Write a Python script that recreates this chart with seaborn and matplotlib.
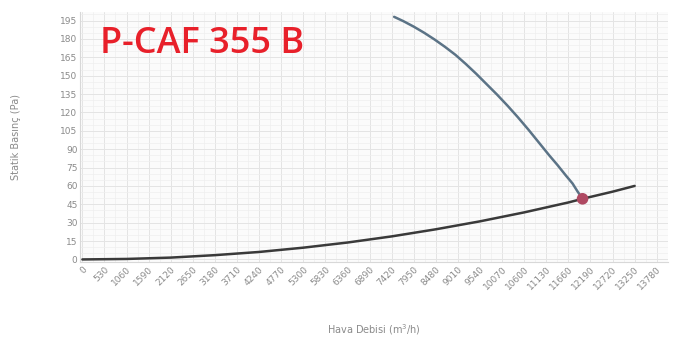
import numpy as np
import pandas as pd
import matplotlib.pyplot as plt
from matplotlib.ticker import MultipleLocator
import seaborn as sns

# Fan curve (air flow m3/h vs static pressure Pa)
fan_q = [7480, 7700, 7950, 8200, 8450, 8700, 8950, 9200, 9450, 9700, 9950,
         10200, 10450, 10700, 10950, 11200, 11400, 11600, 11760, 11880, 12000]
fan_p = [198, 194.5, 190, 185, 179.5, 173.5, 167, 159.5, 151.5, 143, 134.5,
         125.5, 116, 106, 95.5, 85, 77, 68.5, 62, 55.5, 49.5]

# System curve
sys_q = [0, 1060, 2120, 3180, 4240, 5300, 6360, 7420, 8480, 9540, 10600, 11660, 12000, 12720, 13250]
sys_p = [0, 0.4, 1.5, 3.5, 6.1, 9.6, 13.8, 18.8, 24.6, 31.1, 38.4, 46.5, 49.5, 55.3, 60]

# Operating point
op_q = [12000]
op_p = [49.5]

x_ticks = list(range(0, 13781, 530))
y_ticks = list(range(0, 196, 15))

sns.set_theme(style='white')
plt.rcParams['font.family'] = ['DejaVu Sans']

fan = pd.DataFrame({'Q': fan_q, 'P': fan_p})
syst = pd.DataFrame({'Q': sys_q, 'P': sys_p})
op = pd.DataFrame({'Q': op_q, 'P': op_p})

fig = plt.figure(figsize=(6.98, 3.41), dpi=100)
ax = fig.add_axes([0.115, 0.232, 0.842, 0.733])
ax.set_facecolor('#fbfbfb')

sns.lineplot(ax=ax, data=syst, x='Q', y='P', sort=False, color='#3a3a3a', linewidth=1.8)
sns.lineplot(ax=ax, data=fan, x='Q', y='P', sort=False, color='#5b7386', linewidth=1.8)
sns.scatterplot(ax=ax, data=op, x='Q', y='P', color='#b04a63', s=70, edgecolor='none', zorder=5)

ax.set_xlim(-50, 14050)
ax.set_ylim(-2, 202)
ax.set_xticks(x_ticks)
ax.set_xticklabels([str(v) for v in x_ticks], rotation=45, ha='right',
                   rotation_mode='anchor', fontsize=6.5, color='#8a8a8a')
ax.set_yticks(y_ticks)
ax.set_yticklabels([str(v) for v in y_ticks], fontsize=6.5, color='#8a8a8a')
ax.xaxis.set_minor_locator(MultipleLocator(265))
ax.yaxis.set_minor_locator(MultipleLocator(5))
ax.grid(which='major', color='#e4e4e4', linewidth=0.7)
ax.grid(which='minor', color='#efefef', linewidth=0.5)
ax.tick_params(axis='both', length=0, pad=2)
for s in ['top', 'right']:
    ax.spines[s].set_visible(False)
for s in ['left', 'bottom']:
    ax.spines[s].set_color('#d8d8d8')
    ax.spines[s].set_linewidth(0.8)

ax.set_xlabel('Hava Debisi (m$^3$/h)', fontsize=7, color='#8a8a8a', labelpad=22)
ax.set_ylabel('Statik Basınç (Pa)', fontsize=7, color='#8a8a8a', labelpad=28)

fig.text(0.143, 0.871, 'P-CAF 355 B', fontsize=26, color='#e8202a',
         fontweight='semibold', family=['Open Sans', 'DejaVu Sans'], va='center')

fig.savefig('out.png', dpi=100)
